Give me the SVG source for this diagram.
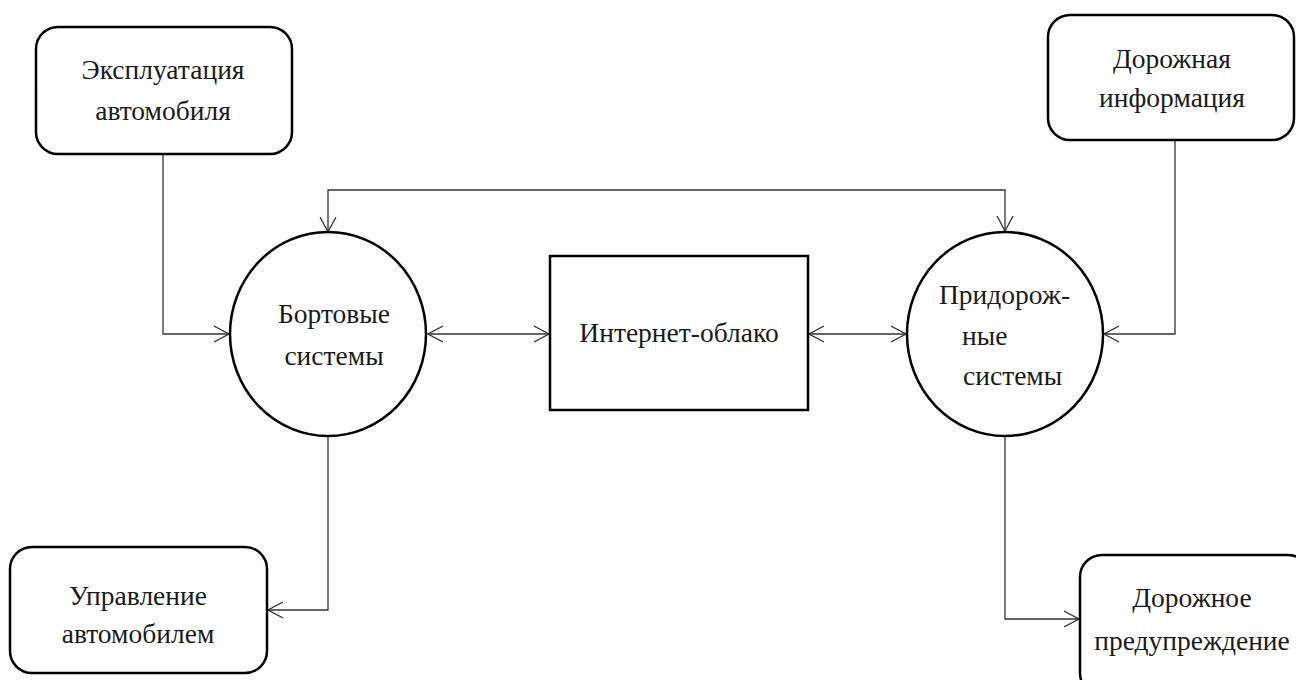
<svg xmlns="http://www.w3.org/2000/svg" width="1296" height="680" viewBox="0 0 1296 680">
<defs>
<style>
.box{fill:#fff;stroke:#000;stroke-width:2.5}
.t{font-family:"Liberation Serif","Times New Roman",serif;font-size:27.5px;fill:#1a1a1a;text-anchor:middle}
.c{fill:none;stroke:#333;stroke-width:1.3}
</style>
<marker id="a" viewBox="0 0 16 18" refX="15" refY="9" markerWidth="16" markerHeight="18" markerUnits="userSpaceOnUse" orient="auto-start-reverse">
<path d="M0,1 L15,9 L0,17" fill="none" stroke="#333" stroke-width="1.3"/>
</marker>
<clipPath id="clipP"><rect x="900" y="270" width="173" height="50"/></clipPath>
</defs>
<rect width="1296" height="680" fill="#fff"/>
<g id="connectors">
<path class="c" d="M163,154 V334 H229" marker-end="url(#a)"/>
<path class="c" d="M328,437 V610 H268" marker-end="url(#a)"/>
<path class="c" d="M328,232 V190 H1005 V231" marker-start="url(#a)" marker-end="url(#a)"/>
<path class="c" d="M428,334 H549" marker-start="url(#a)" marker-end="url(#a)"/>
<path class="c" d="M809,334 H906" marker-start="url(#a)" marker-end="url(#a)"/>
<path class="c" d="M1175,140 V334 H1104" marker-end="url(#a)"/>
<path class="c" d="M1005,437 V619 H1079" marker-end="url(#a)"/>
</g>
<g id="n-expl">
<rect class="box" x="36" y="27" width="256" height="127" rx="22"/>
<text class="t" x="163" y="79">Эксплуатация</text>
<text class="t" x="163" y="120">автомобиля</text>
</g>
<g id="n-bort">
<ellipse class="box" cx="328" cy="334" rx="98" ry="102"/>
<text class="t" x="334" y="323">Бортовые</text>
<text class="t" x="334" y="365">системы</text>
</g>
<g id="n-cloud">
<rect class="box" x="550" y="256" width="258" height="154"/>
<text class="t" x="679" y="342">Интернет-облако</text>
</g>
<g id="n-pridor">
<ellipse class="box" cx="1005" cy="334" rx="98" ry="102"/>
<text class="t" x="939" y="304" style="text-anchor:start" clip-path="url(#clipP)">Придорож-</text>
<text class="t" x="962" y="345" style="text-anchor:start">ные</text>
<text class="t" x="963" y="385" style="text-anchor:start">системы</text>
</g>
<g id="n-dorinfo">
<rect class="box" x="1048" y="15" width="246" height="125" rx="22"/>
<text class="t" x="1172" y="68">Дорожная</text>
<text class="t" x="1172" y="107">информация</text>
</g>
<g id="n-upr">
<rect class="box" x="10" y="547" width="257" height="126" rx="22"/>
<text class="t" x="138" y="605">Управление</text>
<text class="t" x="138" y="643">автомобилем</text>
</g>
<g id="n-preduprezh">
<rect class="box" x="1080" y="555" width="230" height="140" rx="22"/>
<text class="t" x="1192" y="607">Дорожное</text>
<text class="t" x="1192" y="650">предупреждение</text>
</g>
</svg>
